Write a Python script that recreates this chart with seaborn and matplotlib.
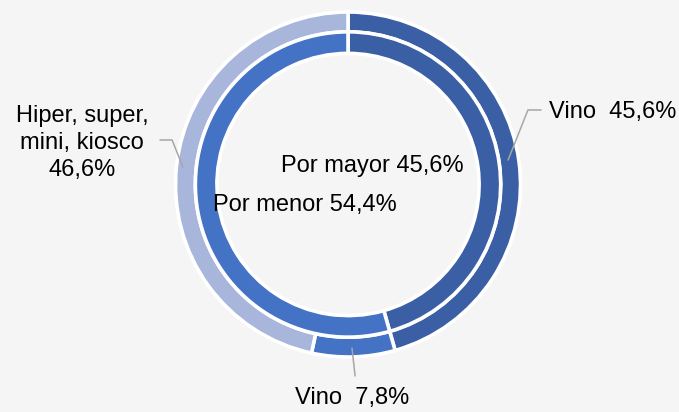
import matplotlib
matplotlib.use("Agg")
import matplotlib.pyplot as plt
import seaborn as sns

# anillo exterior: canal de venta
outer_labels = ["Vino  45,6%", "Vino  7,8%", "Hiper, super,\nmini, kiosco\n46,6%"]
outer_values = [45.6, 7.8, 46.6]
outer_colors = ["#3a5fa5", "#4472c4", "#a8b6dc"]

# anillo interior: tipo de venta
inner_labels = ["Por mayor 45,6%", "Por menor 54,4%"]
inner_values = [45.6, 54.4]
inner_colors = ["#3a5fa5", "#4472c4"]

sns.set_theme(style="white")
plt.rcParams["font.family"] = ["Liberation Sans", "DejaVu Sans"]
plt.rcParams["text.color"] = "black"

bg = "#f5f5f5"
fig = plt.figure(figsize=(6.79, 4.12), dpi=100, facecolor=bg)
ax = fig.add_axes([0.2585, 0.1335, 0.5081, 0.8374])
ax.set_facecolor(bg)

wp = dict(edgecolor="white", linewidth=2.6)
ax.pie(outer_values, colors=outer_colors, radius=1.0, startangle=90,
       counterclock=False, wedgeprops=dict(width=0.115, **wp))
ax.pie(inner_values, colors=inner_colors, radius=0.885, startangle=90,
       counterclock=False, wedgeprops=dict(width=0.125, **wp))
ax.set_xlim(-1, 1)
ax.set_ylim(-1, 1)
ax.set_aspect("equal")
ax.axis("off")

fs = 17
line_kw = dict(color="#a6a6a6", lw=1.1, clip_on=False)

# Vino 45,6%
ax.plot([0.928, 1.043, 1.119], [0.142, 0.432, 0.432], **line_kw)
ax.text(1.165, 0.42, outer_labels[0], fontsize=fs, ha="left", va="center")

# Vino 7,8%
ax.plot([0.023, 0.041], [-0.948, -1.11], **line_kw)
ax.text(0.023, -1.238, outer_labels[1], fontsize=fs, ha="center", va="center")

# Hiper, super...
ax.plot([-1.090, -1.020, -0.957], [0.258, 0.258, 0.101], **line_kw)
ax.text(-1.542, 0.241, outer_labels[2], fontsize=fs, ha="center", va="center",
        linespacing=1.3)

# etiquetas del anillo interior
ax.text(0.139, 0.107, inner_labels[0], fontsize=fs, ha="center", va="center")
ax.text(-0.249, -0.119, inner_labels[1], fontsize=fs, ha="center", va="center")

fig.savefig("out.png", dpi=100, facecolor=bg)
